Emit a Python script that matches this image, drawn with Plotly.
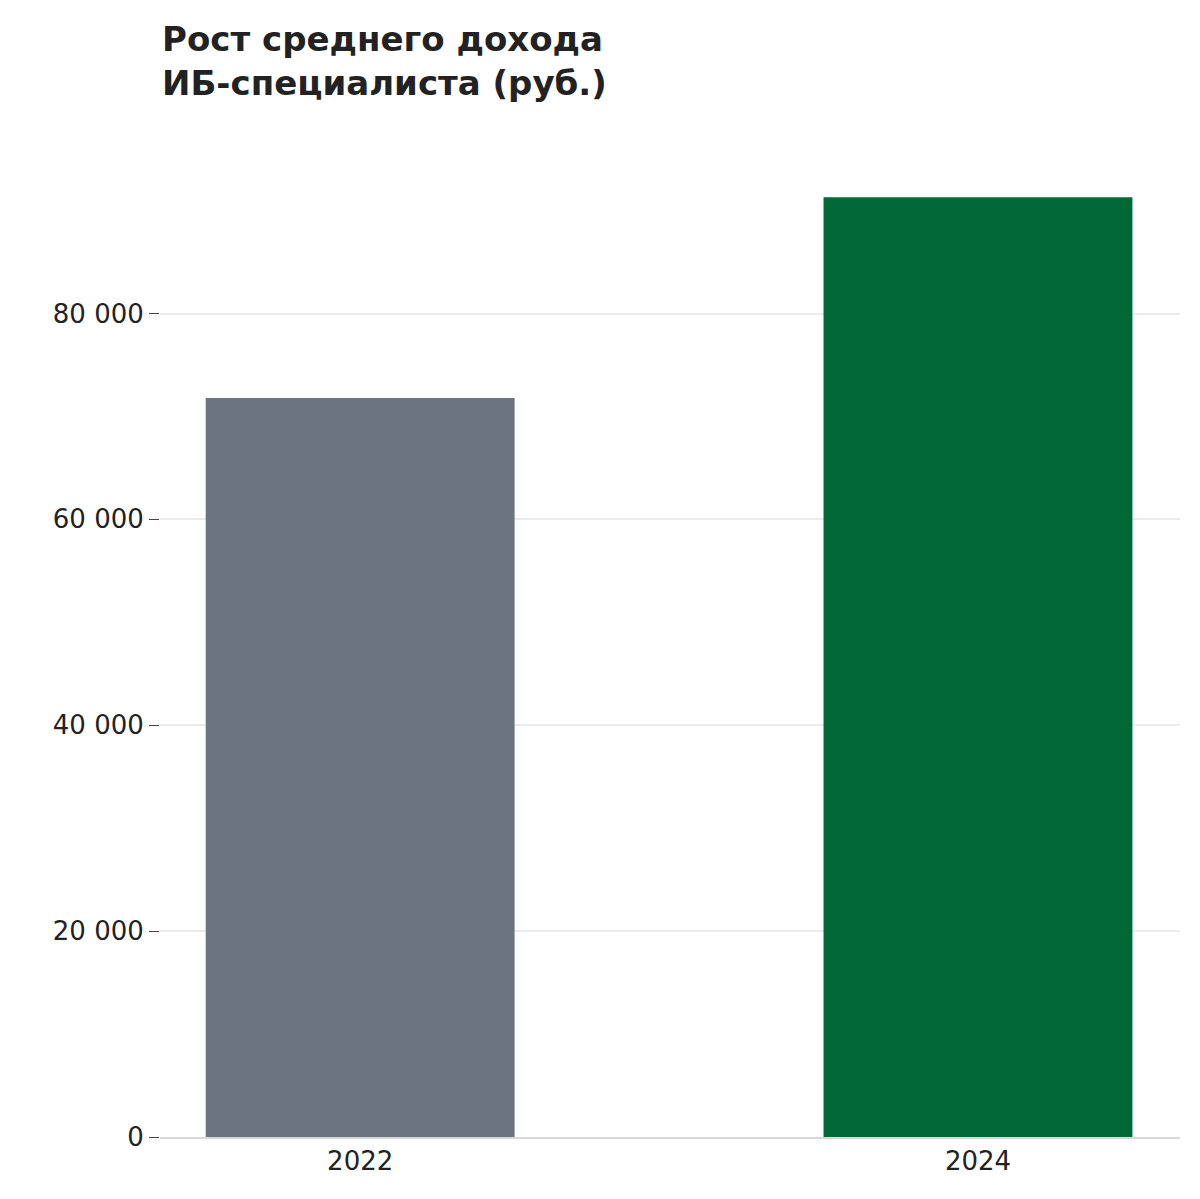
import plotly.graph_objects as go

years = ["2022", "2024"]
income = [71800, 91300]
labels = ["71 800", "91 300"]
colors = ["#6c757f", "#026835"]
tick_vals = [0, 20000, 40000, 60000, 80000]
tick_text = ["0", "20 000", "40 000", "60 000", "80 000"]

fig = go.Figure(go.Bar(
    x=years, y=income, marker_color=colors, marker_line_width=0,
    width=0.5, hoverinfo="x+y",
))

# value labels inside the bars, near the top
for yr, val, lab in zip(years, income, labels):
    fig.add_annotation(x=yr, y=val, text="<b>" + lab + "</b>", showarrow=False,
                       yanchor="middle", yshift=-67,
                       font=dict(color="white", size=28, family="DejaVu Sans"))

fig.add_annotation(text="<b>Рост среднего дохода<br>ИБ-специалиста (руб.)</b>",
                   xref="paper", yref="paper", x=0, y=1.09,
                   xanchor="left", yanchor="bottom", align="left",
                   showarrow=False, font=dict(size=34, color="#222"))

fig.update_layout(
    width=1200, height=1199,
    plot_bgcolor="white", paper_bgcolor="white",
    font=dict(family="DejaVu Sans", size=26, color="#222"),
    margin=dict(l=152, r=28, t=182, b=70),
    showlegend=False,
)
fig.update_yaxes(range=[0, 92000], tickvals=tick_vals, ticktext=tick_text,
                 ticks="outside", ticklen=10, tickcolor="#444",
                 showgrid=True, gridcolor="#ebebeb", gridwidth=2,
                 zeroline=False, showline=False, automargin=False)
fig.update_xaxes(range=[-0.324, 1.327], showline=True, linecolor="#d8d8d8",
                 linewidth=2, ticks="", tickfont=dict(size=26))
fig.write_html("out.html")
